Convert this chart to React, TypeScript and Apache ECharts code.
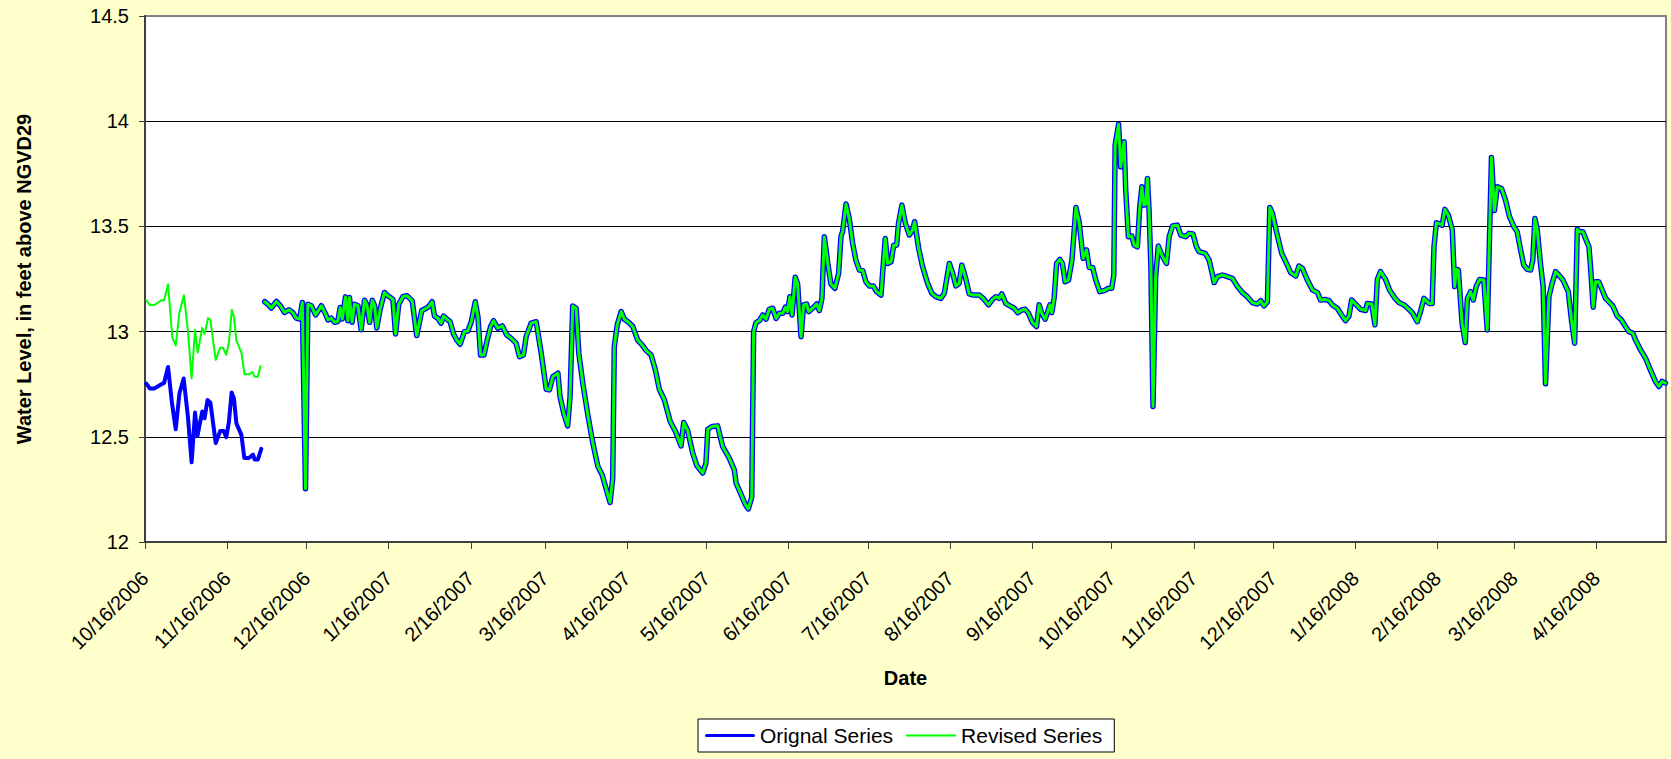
import React, { useEffect, useRef } from "react";
import * as echarts from "echarts";

const FONT = "'Liberation Sans', Arial, Helvetica, sans-serif";
const START_UTC = Date.UTC(2006, 9, 16);
const DAY_MS = 86400000;
const X_MAX_DAYS = 574.3;

const tickLabels = [
  "10/16/2006", "11/16/2006", "12/16/2006", "1/16/2007", "2/16/2007", "3/16/2007",
  "4/16/2007", "5/16/2007", "6/16/2007", "7/16/2007", "8/16/2007", "9/16/2007",
  "10/16/2007", "11/16/2007", "12/16/2007", "1/16/2008", "2/16/2008", "3/16/2008",
  "4/16/2008",
];

const seriesNames = ["Orignal Series", "Revised Series"];

// [days since 10/16/2006, water level ft]
const originalEarly: [number, number][] = [
  [0.5, 12.753], [1.8, 12.73], [3.6, 12.73], [6.2, 12.75], [7.2, 12.756], [8.7, 12.832],
  [10.2, 12.659], [11.6, 12.536], [13, 12.706], [14.6, 12.777], [16.2, 12.596], [17.6, 12.379],
  [18.9, 12.615], [19.8, 12.505], [21.6, 12.62], [22.5, 12.588], [23.6, 12.675], [24.7, 12.662],
  [26.7, 12.47], [28.4, 12.528], [29.7, 12.528], [30.7, 12.498], [31.7, 12.572], [32.7, 12.71],
  [33.6, 12.682], [34.5, 12.564], [36.4, 12.509], [37.5, 12.399], [39.2, 12.399], [40.8, 12.415],
  [41.4, 12.392], [42.6, 12.392], [43.9, 12.443],
];

const revisedEarly: [number, number][] = [
  [0.5, 13.149], [1.8, 13.127], [3.6, 13.127], [6.2, 13.149], [7.2, 13.149], [8.7, 13.225],
  [10.3, 12.973], [11.6, 12.934], [13, 13.091], [14.7, 13.173], [16.2, 13.005], [17.6, 12.777],
  [18.9, 13.009], [19.9, 12.9], [21.6, 13.017], [22.5, 12.989], [23.8, 13.064], [24.7, 13.055],
  [26.7, 12.866], [28.4, 12.923], [29.4, 12.923], [30.7, 12.89], [31.7, 12.95], [32.8, 13.104],
  [33.6, 13.07], [34.5, 12.958], [36.4, 12.9], [37.6, 12.797], [39.2, 12.797], [40.5, 12.808],
  [41.4, 12.785], [42.6, 12.785], [43.6, 12.836],
];

// After 11/30/2006 both series carry the same readings
const sharedLater: [number, number][] = [
  [45.2, 13.142], [46.4, 13.13], [47.7, 13.112], [49.6, 13.143], [51.1, 13.123], [52.7, 13.091],
  [54.3, 13.104], [55.8, 13.091], [57.1, 13.064], [58.4, 13.06], [59.4, 13.138], [60.6, 12.253],
  [61.5, 13.13], [62.8, 13.123], [64.4, 13.079], [66.6, 13.123], [68.2, 13.083], [69.1, 13.055],
  [70.3, 13.064], [71.6, 13.044], [72.8, 13.049], [73.7, 13.115], [74.5, 13.06], [75.7, 13.165],
  [76.6, 13.052], [77.2, 13.162], [78.2, 13.044], [79.1, 13.13], [80.4, 13.123], [81.6, 13.009],
  [82.9, 13.149], [83.8, 13.127], [84.8, 13.044], [85.8, 13.149], [86.7, 13.123], [87.5, 13.017],
  [88.8, 13.107], [90.4, 13.186], [91.7, 13.17], [93.6, 13.154], [94.6, 12.989], [95.8, 13.13],
  [97.4, 13.167], [99, 13.17], [100.9, 13.146], [102.6, 12.981], [104.5, 13.1], [106.2, 13.111],
  [107.2, 13.12], [108.4, 13.142], [109.3, 13.074], [110.6, 13.063], [111.8, 13.04], [112.7, 13.074],
  [114.4, 13.055], [115.2, 13.047], [116.5, 12.989], [117.7, 12.96], [119, 12.94], [120.6, 13.0],
  [121.9, 13.003], [123.2, 13.047], [124.7, 13.142], [125.7, 13.071], [126.7, 12.889], [128, 12.889],
  [129.2, 12.96], [130.5, 13.024], [131.6, 13.052], [133.2, 13.016], [134.9, 13.027], [136.6, 12.984],
  [138.3, 12.968], [140.1, 12.945], [141.4, 12.881], [142.9, 12.889], [143.9, 12.976], [145.8, 13.04],
  [147.7, 13.047], [149.6, 12.897], [151.5, 12.726], [152.7, 12.723], [154, 12.786], [155.9, 12.802],
  [156.7, 12.691], [158.1, 12.612], [159.6, 12.552], [160.5, 12.691], [161.5, 13.122], [162.8, 13.111],
  [163.8, 12.897], [165.3, 12.755], [167.2, 12.604], [169.1, 12.47], [171, 12.359], [172.6, 12.32],
  [174.4, 12.24], [175.6, 12.188], [176.6, 12.304], [177.2, 12.929], [178.3, 13.032], [179.8, 13.095],
  [181, 13.059], [182.7, 13.043], [184.2, 13.024], [186, 12.96], [187.7, 12.937], [189.2, 12.91],
  [191.1, 12.889], [192.7, 12.818], [194.2, 12.726], [196.1, 12.676], [198.3, 12.573], [200.3, 12.525],
  [202.4, 12.457], [203.4, 12.568], [204.9, 12.53], [206.8, 12.422], [208.4, 12.362], [210.6, 12.328],
  [211.8, 12.375], [212.5, 12.536], [214.1, 12.549], [216.2, 12.552], [218.1, 12.454], [220.6, 12.399],
  [222.5, 12.343], [223.2, 12.28], [225.1, 12.225], [226.7, 12.177], [227.8, 12.157], [229.1, 12.214],
  [229.8, 13.0], [230.7, 13.043], [232, 13.052], [233.2, 13.079], [234.5, 13.059], [235.7, 13.106],
  [237, 13.111], [238.3, 13.063], [239.5, 13.087], [240.8, 13.087], [241.8, 13.116], [242.6, 13.095],
  [243.5, 13.166], [244.3, 13.079], [245.5, 13.258], [246.4, 13.229], [247.7, 12.976], [248.7, 13.127],
  [249.8, 13.131], [250.6, 13.095], [252.1, 13.111], [253.6, 13.131], [254.6, 13.1], [255.6, 13.158],
  [256.5, 13.451], [257.8, 13.324], [259, 13.226], [260.5, 13.206], [261.9, 13.277], [262.8, 13.454],
  [263.4, 13.475], [264.7, 13.606], [265.9, 13.538], [267.2, 13.419], [268.4, 13.34], [269.7, 13.293],
  [271, 13.29], [272.2, 13.237], [273.5, 13.217], [275, 13.217], [276.2, 13.19], [277.9, 13.174],
  [278.5, 13.277], [279.5, 13.443], [280.4, 13.324], [281.7, 13.332], [282.7, 13.411], [283.8, 13.411],
  [284.5, 13.514], [285.8, 13.601], [287.1, 13.514], [288.6, 13.459], [289.8, 13.483], [290.6, 13.522],
  [292.1, 13.396], [293.6, 13.309], [295.5, 13.229], [297.1, 13.182], [298.6, 13.166], [300.5, 13.158],
  [301.8, 13.182], [303.7, 13.324], [304.9, 13.28], [306.2, 13.217], [307.4, 13.229], [308.4, 13.316],
  [309.7, 13.261], [311.2, 13.179], [312.5, 13.174], [315, 13.174], [316.5, 13.158], [318.5, 13.127],
  [320, 13.153], [321.3, 13.166], [322.5, 13.158], [323.5, 13.179], [325, 13.134], [326.6, 13.122],
  [328.2, 13.111], [329.5, 13.09], [331.1, 13.103], [332.3, 13.106], [333.6, 13.087], [335.1, 13.043],
  [336.6, 13.024], [337.6, 13.127], [338.6, 13.087], [339.9, 13.059], [341.7, 13.127], [342.4, 13.09],
  [343.3, 13.163], [344.2, 13.324], [345.4, 13.343], [346.4, 13.324], [347.4, 13.237], [348.7, 13.245],
  [350, 13.34], [351.5, 13.59], [352.7, 13.522], [354.2, 13.348], [355.5, 13.388], [356.5, 13.305],
  [357.8, 13.305], [359, 13.245], [360.5, 13.19], [362.2, 13.195], [363.8, 13.206], [365, 13.206],
  [365.8, 13.269], [366.3, 13.886], [367.6, 13.986], [368.4, 13.783], [369.7, 13.902], [370.3, 13.672],
  [371.3, 13.451], [372.6, 13.454], [373.5, 13.411], [374.7, 13.403], [375.6, 13.593], [376.4, 13.688],
  [377.2, 13.601], [377.9, 13.606], [378.5, 13.728], [379.1, 13.578], [379.8, 13.309], [380.6, 12.644],
  [381.6, 13.261], [382.6, 13.407], [384.2, 13.356], [385.7, 13.324], [386.7, 13.451], [388, 13.502],
  [389.8, 13.506], [391.1, 13.459], [393, 13.451], [394.2, 13.467], [395.7, 13.464], [397, 13.403],
  [398, 13.38], [400.3, 13.372], [401.8, 13.34], [402.8, 13.285], [403.7, 13.233], [404.9, 13.261],
  [406.8, 13.269], [408.7, 13.261], [410.6, 13.253], [412.5, 13.214], [414.4, 13.185], [416.2, 13.166],
  [418.1, 13.138], [420, 13.131], [421.3, 13.147], [422.5, 13.122], [423.8, 13.142], [424.7, 13.59],
  [425.7, 13.562], [427.2, 13.475], [429.2, 13.372], [431, 13.324], [432.6, 13.28], [434.5, 13.264],
  [435.7, 13.312], [437, 13.301], [438.9, 13.245], [440.8, 13.198], [442.7, 13.185], [443.9, 13.15],
  [445.6, 13.153], [447.1, 13.147], [448.3, 13.127], [450.2, 13.111], [451.8, 13.079], [453.3, 13.052],
  [454.6, 13.074], [455.6, 13.15], [457.4, 13.127], [459, 13.106], [460.9, 13.1], [461.5, 13.134],
  [463.2, 13.131], [464.4, 13.032], [465.3, 13.248], [466.5, 13.285], [468.4, 13.248], [470, 13.195],
  [472, 13.158], [473.5, 13.138], [475.4, 13.127], [477.2, 13.106], [478.5, 13.09], [480.4, 13.047],
  [481.6, 13.095], [482.9, 13.158], [484.8, 13.134], [486, 13.134], [486.7, 13.403], [487.6, 13.517],
  [489.2, 13.511], [489.8, 13.506], [490.8, 13.581], [492.1, 13.554], [493.6, 13.483], [494.5, 13.214],
  [495.1, 13.296], [495.9, 13.293], [497.3, 13.04], [498.5, 12.948], [499.3, 13.158], [500.5, 13.19],
  [501.5, 13.15], [502.7, 13.217], [503.9, 13.248], [505.5, 13.245], [506.8, 13.008], [508.4, 13.828],
  [509.5, 13.575], [510.6, 13.688], [512.2, 13.68], [513.7, 13.625], [515.2, 13.546], [516.9, 13.498],
  [518.1, 13.475], [519.4, 13.388], [520.6, 13.316], [521.9, 13.296], [523.2, 13.293], [524, 13.34],
  [524.8, 13.538], [525.7, 13.483], [526.9, 13.324], [527.9, 13.214], [528.8, 12.752], [530.1, 13.166],
  [531.3, 13.229], [532.6, 13.285], [533.8, 13.269], [535.4, 13.245], [537.4, 13.19], [538.6, 13.055],
  [539.8, 12.945], [540.8, 13.486], [541.6, 13.475], [542.9, 13.475], [543.9, 13.443], [545.2, 13.403],
  [545.8, 13.309], [546.8, 13.116], [547.7, 13.237], [548.9, 13.237], [550.2, 13.198], [551.5, 13.158],
  [552.7, 13.142], [554.2, 13.122], [555.9, 13.074], [557.5, 13.055], [559, 13.024], [560.3, 13.0],
  [561.8, 12.992], [562.8, 12.96], [564.7, 12.913], [566.6, 12.873], [568.4, 12.818], [570.3, 12.763],
  [571.6, 12.739], [572.8, 12.763], [574.1, 12.755],
];

function labelToDays(label: string): number {
  const [m, d, y] = label.split("/").map(Number);
  return Math.round((Date.UTC(y, m - 1, d) - START_UTC) / DAY_MS);
}

const tickDays = tickLabels.map(labelToDays);

export default function App() {
  const ref = useRef<HTMLDivElement>(null);

  useEffect(() => {
    if (!ref.current) return;
    const chart = echarts.init(ref.current, undefined, { renderer: "svg" });
    const axisColor = "#404040";
    const option: any = {
      animation: false,
      backgroundColor: "#FFFFCC",
      textStyle: { fontFamily: FONT },
      grid: {
        show: true,
        left: 145,
        top: 16,
        right: 5,
        bottom: 217,
        backgroundColor: "#FFFFFF",
        borderColor: "#808080",
        borderWidth: 2,
        containLabel: false,
      },
      legend: {
        left: 698,
        top: 719,
        orient: "horizontal",
        padding: [6, 12, 6, 7],
        itemGap: 13,
        itemWidth: 50,
        itemHeight: 14,
        backgroundColor: "#FFFFFF",
        borderColor: "#000000",
        borderWidth: 1,
        borderRadius: 0,
        symbolKeepAspect: true,
        textStyle: { fontSize: 21, color: "#000", fontFamily: FONT },
        data: [
          { name: seriesNames[0], icon: "path://M1.5 0H48.5A1.5 1.5 0 0 1 48.5 3H1.5A1.5 1.5 0 0 1 1.5 0Z" },
          { name: seriesNames[1], icon: "path://M0 0H50V2H0Z" },
        ],
      },
      xAxis: {
        type: "value",
        min: 0,
        max: X_MAX_DAYS,
        name: "Date",
        nameLocation: "middle",
        nameGap: 126,
        nameTextStyle: { fontSize: 20, fontWeight: "bold", color: "#000", fontFamily: FONT },
        axisLine: { show: true, onZero: false, lineStyle: { color: axisColor, width: 2 } },
        axisTick: {
          show: true,
          customValues: tickDays,
          length: 7,
          lineStyle: { color: axisColor, width: 1 },
        },
        axisLabel: {
          customValues: tickDays,
          rotate: 45,
          margin: 33,
          fontSize: 20,
          color: "#000",
          fontFamily: FONT,
          formatter: (v: number) => {
            const i = tickDays.findIndex((t) => Math.abs(t - v) < 0.5);
            return i >= 0 ? tickLabels[i] : "";
          },
        },
        splitLine: { show: false },
      },
      yAxis: {
        type: "value",
        min: 12,
        max: 14.5,
        interval: 0.5,
        name: "Water Level, in feet above NGVD29",
        nameLocation: "middle",
        nameGap: 111,
        nameTextStyle: { fontSize: 20, fontWeight: "bold", color: "#000", fontFamily: FONT },
        axisLine: { show: true, lineStyle: { color: axisColor, width: 2 } },
        axisTick: { show: true, length: 6, lineStyle: { color: axisColor, width: 1 } },
        axisLabel: { margin: 16, fontSize: 20, color: "#000", fontFamily: FONT },
        splitLine: {
          show: true,
          showMinLine: false,
          showMaxLine: false,
          lineStyle: { color: "#000000", width: 1 },
        },
      },
      series: [
        {
          name: seriesNames[0],
          type: "line",
          data: originalEarly,
          color: "#0000FF",
          symbol: "none",
          lineStyle: { width: 4, color: "#0000FF", join: "round", cap: "round" },
          z: 2,
        },
        {
          name: seriesNames[0],
          type: "line",
          data: sharedLater,
          color: "#0000FF",
          symbol: "none",
          lineStyle: { width: 5.5, color: "#0000FF", join: "round", cap: "round" },
          z: 2,
        },
        {
          name: seriesNames[1],
          type: "line",
          data: revisedEarly,
          color: "#00FF00",
          symbol: "none",
          lineStyle: { width: 2, color: "#00FF00", join: "round", cap: "round" },
          z: 3,
        },
        {
          name: seriesNames[1],
          type: "line",
          data: sharedLater,
          color: "#00FF00",
          symbol: "none",
          lineStyle: { width: 3, color: "#00FF00", join: "round", cap: "round" },
          z: 3,
        },
      ],
    };
    chart.setOption(option);
    return () => chart.dispose();
  }, []);

  return (
    <div
      ref={ref}
      style={{
        position: "absolute",
        left: 0,
        top: 0,
        width: 1671,
        height: 759,
        background: "#FFFFCC",
      }}
    />
  );
}
